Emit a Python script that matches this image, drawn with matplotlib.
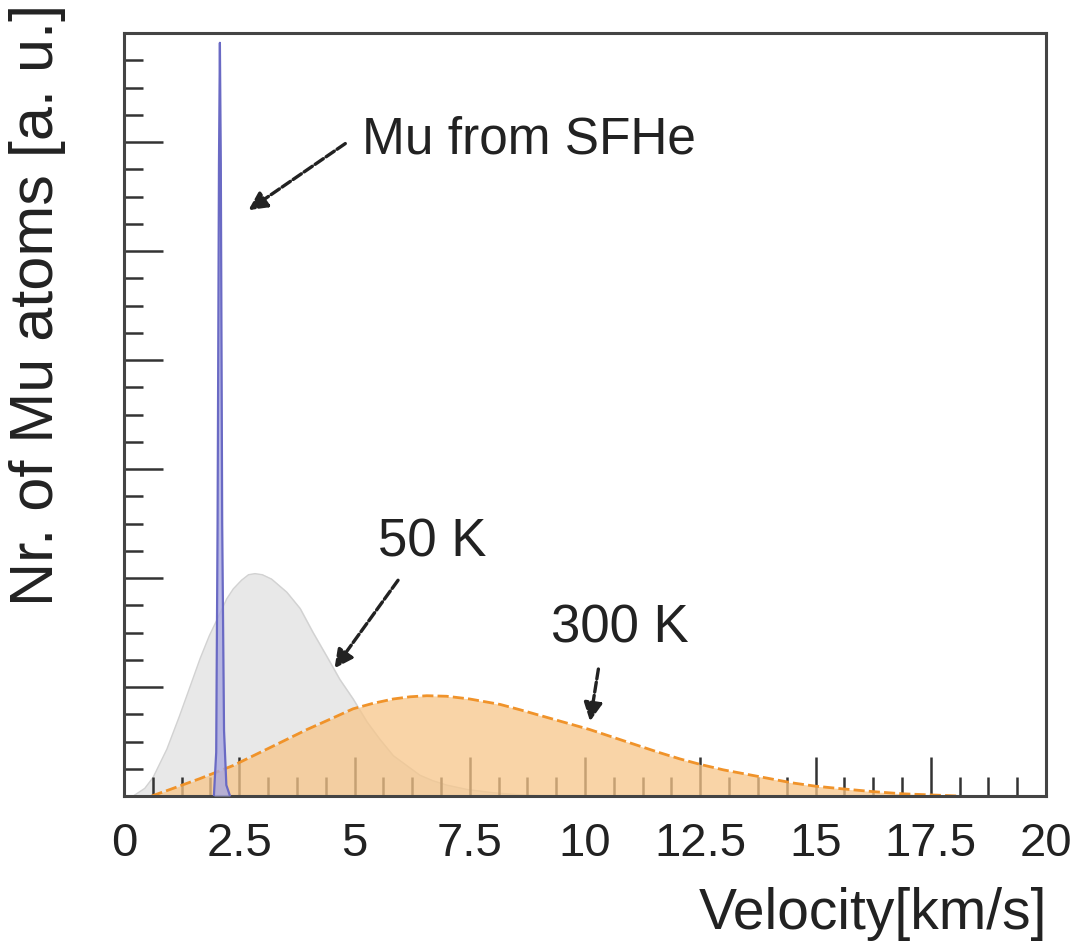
import matplotlib.pyplot as plt
import numpy as np
from matplotlib.ticker import MultipleLocator

plt.rcParams['font.family'] = ['Liberation Sans', 'DejaVu Sans']

# velocity distributions (arbitrary units)
v_50k = [0.2, 0.45, 0.63, 0.93, 1.2, 1.43, 1.65, 1.85, 2.02, 2.23, 2.37, 2.55,
         2.7, 2.84, 3.0, 3.2, 3.53, 3.82, 4.10, 4.4, 4.68, 4.97, 5.27, 5.55,
         5.84, 6.13, 6.42, 6.7, 7.0, 7.44, 8.0, 8.6, 9.2]
n_50k = [0.0, 0.07, 0.17, 0.43, 0.73, 1.0, 1.26, 1.47, 1.62, 1.81, 1.9, 1.98,
         2.03, 2.04, 2.03, 1.99, 1.87, 1.72, 1.50, 1.28, 1.07, 0.89, 0.68, 0.52,
         0.37, 0.28, 0.19, 0.14, 0.1, 0.06, 0.03, 0.01, 0.0]

v_300k = [0.6, 1.0, 1.65, 2.37, 3.1, 3.97, 4.5, 4.97, 5.4, 5.84, 6.2, 6.57,
          7.0, 7.5, 8.16, 8.6, 9.1, 9.6, 10.1, 10.6, 11.1, 11.6, 12.06, 12.5,
          13.0, 13.5, 14.0, 14.5, 15.0, 15.6, 16.25, 16.9, 17.5, 18.1]
n_300k = [0.0, 0.06, 0.16, 0.28, 0.43, 0.61, 0.71, 0.80, 0.85, 0.89, 0.91, 0.92,
          0.915, 0.89, 0.84, 0.79, 0.73, 0.67, 0.61, 0.54, 0.47, 0.40, 0.34, 0.29,
          0.24, 0.20, 0.16, 0.12, 0.09, 0.065, 0.04, 0.02, 0.01, 0.0]

v_sfhe = [1.95, 2.0, 2.03, 2.06, 2.08, 2.1, 2.13, 2.17, 2.22, 2.3]
n_sfhe = [0.0, 0.4, 2.5, 5.8, 6.91, 5.8, 2.5, 0.6, 0.1, 0.0]

xticks = [0, 2.5, 5, 7.5, 10, 12.5, 15, 17.5, 20]
xticklabels = ['0', '2.5', '5', '7.5', '10', '12.5', '15', '17.5', '20']

W, H = 1077, 945
fig = plt.figure(figsize=(W / 100, H / 100), dpi=100)
ax = fig.add_axes([124 / W, 1 - 797 / H, 922 / W, 763 / H])

ax.fill_between(v_50k, n_50k, color='#e8e8e8', zorder=1)
ax.plot(v_50k, n_50k, color='#d2d2d2', lw=1.0, zorder=1.5)

ax.fill_between(v_300k, n_300k, color='#f7c68a', alpha=0.75, lw=0, zorder=2)
ax.plot(v_300k, n_300k, color='#f0932a', lw=2.0, ls=(0, (4, 1.5)), zorder=2.5)

ax.fill_between(v_sfhe, n_sfhe, color='#a9a9e0', alpha=0.8, lw=0, zorder=3)
ax.plot(v_sfhe, n_sfhe, color='#6a6ac4', lw=1.6, zorder=3.5)

ax.set_xlim(0, 20)
ax.set_ylim(0, 7)
ax.set_xticks(xticks)
ax.set_xticklabels(xticklabels)
ax.xaxis.set_minor_locator(MultipleLocator(0.625))
ax.yaxis.set_major_locator(MultipleLocator(1))
ax.yaxis.set_minor_locator(MultipleLocator(0.25))
ax.set_yticklabels([])
ax.tick_params(which='both', direction='in', top=False, right=False,
               color='#333333', width=1.8)
ax.tick_params(which='major', length=28, labelsize=34, pad=18,
               labelcolor='#222222')
ax.tick_params(which='minor', length=14)
for sp in ax.spines.values():
    sp.set_linewidth(2.2)
    sp.set_color('#444444')

fig.text(1047 / W, 1 - 929 / H, 'Velocity[km/s]', fontsize=41,
         color='#222222', ha='right', va='baseline')
fig.text(53 / W, 1 - 4 / H, 'Nr. of Mu atoms [a. u.]', fontsize=44,
         color='#222222', rotation=90, rotation_mode='anchor',
         ha='right', va='baseline')

arrow = dict(arrowstyle='-|>,head_length=1.1,head_width=0.55', color='#222222',
             lw=2.4, linestyle=(0, (3, 1)))
ax.annotate('', xy=(2.65, 5.36), xytext=(4.85, 6.0), arrowprops=arrow)
ax.annotate('', xy=(4.53, 1.15), xytext=(5.98, 2.0), arrowprops=arrow)
ax.annotate('', xy=(10.1, 0.66), xytext=(10.3, 1.19), arrowprops=arrow)

fig.text(362 / W, 1 - 153 / H, 'Mu from SFHe', fontsize=37, color='#222222',
         va='baseline')
fig.text(378 / W, 1 - 557 / H, '50 K', fontsize=38, color='#222222',
         va='baseline')
fig.text(551 / W, 1 - 643 / H, '300 K', fontsize=38, color='#222222',
         va='baseline')

plt.savefig('out.png', dpi=100)
